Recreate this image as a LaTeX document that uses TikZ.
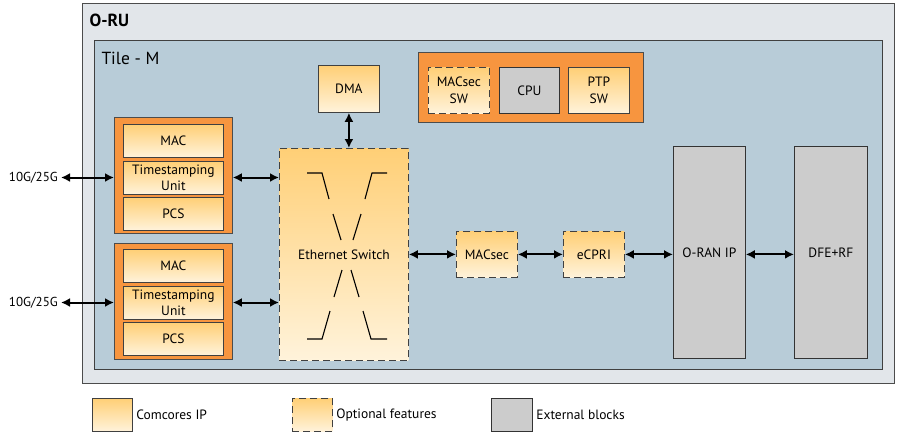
\documentclass[tikz,border=0pt]{standalone}
\usepackage{fontspec}
\setmainfont{PT Sans}
\usetikzlibrary{arrows.meta}

\definecolor{ruGray}{HTML}{E2E6EA}
\definecolor{tileBlue}{HTML}{B8CCD8}
\definecolor{grpOrange}{HTML}{F7953F}
\definecolor{ipTop}{HTML}{FFCF76}
\definecolor{ipBot}{HTML}{FFF3DB}
\definecolor{extGray}{HTML}{CCCCCC}

\begin{document}
\begin{tikzpicture}[x=1pt,y=-1pt,
		box/.style={anchor=north west, inner sep=0pt, align=center, line width=0.8pt,
			font=\fontsize{13.5}{16.5}\selectfont},
		ipblock/.style={box, draw=black!75, top color=ipTop, bottom color=ipBot},
		optblock/.style={ipblock, dash pattern=on 7pt off 4pt},
		extblock/.style={box, draw=black!80, fill=extGray},
		group/.style={box, draw=black!70, fill=grpOrange},
		link/.style={{Latex[length=9pt,width=9pt]}-{Latex[length=9pt,width=9pt]}, line width=2pt}]

		\useasboundingbox (0,0) rectangle (900,440);

		% containers
		\node[box, draw=black!70, fill=ruGray, minimum width=812pt, minimum height=380pt] (oru) at (82,3) {};
		\node[anchor=west, font=\fontsize{17.5}{20}\selectfont\bfseries] at (86,20) {O-RU};
		\node[box, draw=black!75, fill=tileBlue, minimum width=788pt, minimum height=329pt] (tile) at (94,40) {};
		\node[anchor=west, font=\fontsize{17.5}{20}\selectfont] at (98,58) {Tile - M};

		% software group
		\node[group, minimum width=225pt, minimum height=70pt] (sw) at (418,52) {};
		\node[optblock, minimum width=61pt, minimum height=46pt] (macsw) at (428,67) {MACsec\\SW};
		\node[extblock, minimum width=60pt, minimum height=46pt] (cpu) at (499,67) {CPU};
		\node[ipblock, minimum width=61pt, minimum height=46pt] (ptp) at (568,67) {PTP\\SW};

		\node[ipblock, minimum width=61pt, minimum height=47pt] (dma) at (318,65) {DMA};

		% ethernet ports
		\node[group, minimum width=118pt, minimum height=116pt] (phy1) at (114,117) {};
		\node[ipblock, minimum width=100pt, minimum height=33pt] (mac1) at (123,124) {MAC};
		\node[ipblock, minimum width=100pt, minimum height=33pt] (tsu1) at (123,161) {Timestamping\\Unit};
		\node[ipblock, minimum width=100pt, minimum height=33pt] (pcs1) at (123,197) {PCS};

		\node[group, minimum width=118pt, minimum height=116pt] (phy2) at (114,243) {};
		\node[ipblock, minimum width=100pt, minimum height=33pt] (mac2) at (123,249) {MAC};
		\node[ipblock, minimum width=100pt, minimum height=33pt] (tsu2) at (123,286) {Timestamping\\Unit};
		\node[ipblock, minimum width=100pt, minimum height=33pt] (pcs2) at (123,322) {PCS};

		\node[anchor=east, inner sep=3pt, font=\fontsize{13}{15}\selectfont] (port1) at (61,177.5) {10G/25G};
		\node[anchor=east, inner sep=3pt, font=\fontsize{13}{15}\selectfont] (port2) at (61,302.5) {10G/25G};

		% data path
		\node[optblock, minimum width=129pt, minimum height=212pt] (switch) at (279,148) {Ethernet Switch};
		\node[optblock, minimum width=61pt, minimum height=46pt] (macsec) at (456,231) {MACsec};
		\node[optblock, minimum width=61pt, minimum height=46pt] (ecpri) at (563,231) {eCPRI};
		\node[extblock, minimum width=72pt, minimum height=212pt] (oran) at (673,146) {O-RAN IP};
		\node[extblock, minimum width=73pt, minimum height=212pt] (dfe) at (794,146) {DFE+RF};

		% switch symbol
		\draw[line width=1.1pt] (307,173) -- (322,173) -- (329,199);
		\draw[line width=1.1pt] (333,214) -- (341,240);
		\draw[line width=1.1pt] (387,173) -- (372,173) -- (365,199);
		\draw[line width=1.1pt] (361,214) -- (353,240);
		\draw[line width=1.1pt] (307,339) -- (322,339) -- (330,311);
		\draw[line width=1.1pt] (334,297) -- (342,270);
		\draw[line width=1.1pt] (387,339) -- (371,339) -- (363,311);
		\draw[line width=1.1pt] (359,297) -- (351,270);

		% connections
		\draw[link] (port1.east) -- (phy1.west |- port1.east);
		\draw[link] (port2.east) -- (phy2.west |- port2.east);
		\draw[link] (phy1.east |- port1.east) -- (switch.west |- port1.east);
		\draw[link] (phy2.east |- port2.east) -- (switch.west |- port2.east);
		\draw[link] (dma.south) -- (dma.south |- switch.north);
		\draw[link] (switch.east) -- (macsec.west);
		\draw[link] (macsec.east) -- (ecpri.west);
		\draw[link] (ecpri.east) -- (oran.west |- ecpri.east);
		\draw[link] (oran.east |- ecpri.east) -- (dfe.west |- ecpri.east);

		% legend
		\node[ipblock, minimum width=40pt, minimum height=33pt] (keyip) at (92,398) {};
		\node[anchor=west, font=\fontsize{13.5}{16}\selectfont] at (keyip.east) {Comcores IP};
		\node[optblock, minimum width=40pt, minimum height=33pt] (keyopt) at (292,398) {};
		\node[anchor=west, font=\fontsize{13.5}{16}\selectfont] at (keyopt.east) {Optional features};
		\node[extblock, minimum width=41pt, minimum height=33pt] (keyext) at (491,398) {};
		\node[anchor=west, font=\fontsize{13.5}{16}\selectfont] at (keyext.east) {External blocks};

	\end{tikzpicture}
\end{document}
